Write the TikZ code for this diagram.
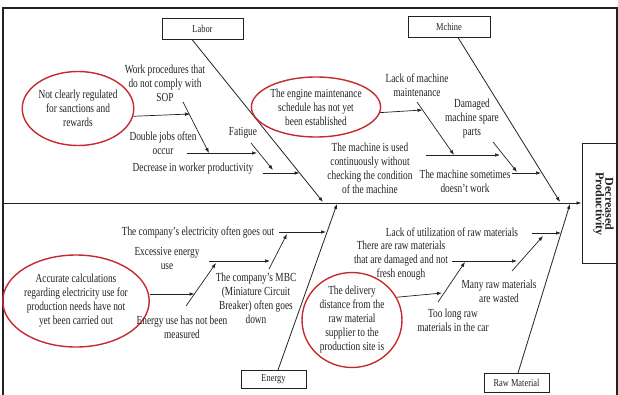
\documentclass[tikz,border=0pt]{standalone}
\usepackage{fontspec}
\setmainfont{Liberation Serif}[FakeStretch=0.76]
\newfontfamily\effectfont{Liberation Serif}
\newfontfamily\boxfont{Liberation Serif}[FakeStretch=0.8]
\usetikzlibrary{arrows.meta,shapes.geometric}
\definecolor{circred}{HTML}{C62A2F}
\definecolor{ink}{HTML}{222222}
\begin{document}
\begin{tikzpicture}[x=1pt,y=-1pt,
  txt/.style={font=\fontsize{12.3}{14}\selectfont, align=center, inner sep=0pt, text=ink},
  catbox/.style={draw=ink, line width=0.8pt, inner sep=0pt, font=\boxfont\fontsize{10.5}{11}\selectfont, text=ink},
  cause/.style={ellipse, draw=circred, line width=1.4pt, align=center, inner sep=0pt, text=ink, font=\fontsize{12.3}{14}\selectfont},
  arr/.style={draw=ink, -{Latex[length=5pt,width=3.6pt]}, line width=0.7pt},
  bone/.style={draw=ink, -{Latex[length=5pt,width=3.6pt]}, line width=0.8pt}]
\useasboundingbox (0,0) rectangle (618,394);
\clip (0,0) rectangle (618,394);
% frame
\draw[ink, line width=1.1pt] (3,8) rectangle (617,400);
% category boxes
\node[catbox, minimum width=81pt, minimum height=21pt] (labor) at (202.5,28.5) {Labor};
\node[catbox, minimum width=82pt, minimum height=21pt] (machine) at (449,26.5) {Mchine};
\node[catbox, minimum width=65pt, minimum height=18pt] (energy) at (273.5,379) {Energy};
\node[catbox, minimum width=65pt, minimum height=19pt] (raw) at (516.5,382.5) {Raw Material};
\node[draw=ink, line width=0.9pt, minimum width=35pt, minimum height=120pt, inner sep=0pt] (effect) at (599.5,203) {};
\node[rotate=-90, align=center, inner sep=0pt, text=ink, font=\effectfont\bfseries\fontsize{12}{9.5}\selectfont] (effecttext) at (603.5,204) {Decreased\\Productivity};
% spine
\coordinate (S0) at (3,203);
\draw[bone] (S0) -- (effect.west);
% main bones
\coordinate (L0) at (192,39.5); \coordinate (L1) at (323,202);
\coordinate (M0) at (458,37.5); \coordinate (M1) at (560,202);
\coordinate (E0) at (278,370);  \coordinate (E1) at (337,204);
\coordinate (R0) at (518,373);  \coordinate (R1) at (570,204);
\draw[bone] (L0) -- (L1);
\draw[bone] (M0) -- (M1);
\draw[bone] (E0) -- (E1);
\draw[bone] (R0) -- (R1);

% ---------- Labor ----------
\node[cause, minimum width=110pt, minimum height=74pt] (c1) at (78,108.5) {Not clearly regulated\\for sanctions and\\rewards};
\node[txt] (l1) at (165,83) {Work procedures that\\do not comply with\\SOP};
\node[txt] (l2) at (163,143) {Double jobs often\\occur};
\node[txt] (l3) at (243,133) {Fatigue};
\node[txt] (l4) at (193,169) {Decrease in worker productivity};
\coordinate (a1) at (190,114);
\coordinate (a2s) at (183,102); \coordinate (a2e) at (209,153);
\coordinate (a3s) at (187,153); \coordinate (a3e) at (257,153);
\coordinate (a4s) at (251,143); \coordinate (a4e) at (273,170);
\coordinate (a5s) at (263,173); \coordinate (a5e) at (299.5,173);
\draw[arr] (c1.-8) -- (a1);
\draw[arr] (a2s) -- (a2e);
\draw[arr] (a3s) -- (a3e);
\draw[arr] (a4s) -- (a4e);
\draw[arr] (a5s) -- (a5e);

% ---------- Machine ----------
\node[cause, minimum width=122pt, minimum height=60pt] (c2) at (316,107) {The engine maintenance\\schedule has not yet\\been established};
\node[txt] (m1) at (417,85) {Lack of machine\\maintenance};
\node[txt] (m2) at (370,168) {The machine is used\\continuously without\\checking the condition\\of the machine};
\node[txt] (m3) at (472,119) {Damaged\\machine spare\\parts};
\node[txt] (m4) at (465,181) {The machine sometimes\\doesn't work};
\coordinate (b1) at (422.5,110);
\coordinate (b2s) at (417,102); \coordinate (b2e) at (454,155);
\coordinate (b3s) at (426,155); \coordinate (b3e) at (500,155);
\coordinate (b4s) at (493,142); \coordinate (b4e) at (517,172);
\coordinate (b5s) at (512,173); \coordinate (b5e) at (541,173);
\draw[arr] (c2.-5) -- (b1);
\draw[arr] (b2s) -- (b2e);
\draw[arr] (b3s) -- (b3e);
\draw[arr] (b4s) -- (b4e);
\draw[arr] (b5s) -- (b5e);

% ---------- Energy ----------
\node[txt] (n1) at (198,232) {The company's electricity often goes out};
\node[txt] (n2) at (167,258) {Excessive energy\\use};
\node[txt] (n3) at (256,298) {The company's MBC\\(Miniature Circuit\\Breaker) often goes\\down};
\node[cause, minimum width=116pt, minimum height=92pt] (c3) at (76,301) {Accurate calculations\\regarding electricity use for\\production needs have not\\yet been carried out};
\node[txt] (n4) at (182,327) {Energy use has not been\\measured};
\coordinate (d1s) at (279,232); \coordinate (d1e) at (326,232);
\coordinate (d2s) at (209,261); \coordinate (d2e) at (270,261);
\coordinate (d3s) at (269,269); \coordinate (d3e) at (287,234);
\coordinate (d4) at (194.5,294);
\coordinate (d5s) at (186,306); \coordinate (d5e) at (216,263);
\draw[arr] (d1s) -- (d1e);
\draw[arr] (d2s) -- (d2e);
\draw[arr] (d3s) -- (d3e);
\draw[arr] (c3.east |- d4) -- (d4);
\draw[arr] (d5s) -- (d5e);

% ---------- Raw Material ----------
\node[txt] (r1) at (452,232) {Lack of utilization of raw materials};
\node[txt] (r2) at (401,261) {There are raw materials\\that are damaged and not\\fresh enough};
\node[txt] (r3) at (499,291) {Many raw materials\\are wasted};
\node[cause, minimum width=100pt, minimum height=88pt] (c4) at (352,320) {The delivery\\distance from the\\raw material\\supplier to the\\production site is};
\node[txt] (r4) at (453,320) {Too long raw\\materials in the car};
\coordinate (f1s) at (532,233); \coordinate (f1e) at (561,233);
\coordinate (f2s) at (452,261); \coordinate (f2e) at (517,261);
\coordinate (f3s) at (512,271); \coordinate (f3e) at (543,236);
\coordinate (f4) at (442,293);
\coordinate (f5s) at (438,302); \coordinate (f5e) at (465,262);
\draw[arr] (f1s) -- (f1e);
\draw[arr] (f2s) -- (f2e);
\draw[arr] (f3s) -- (f3e);
\draw[arr] (c4.27) -- (f4);
\draw[arr] (f5s) -- (f5e);
\end{tikzpicture}
\end{document}
